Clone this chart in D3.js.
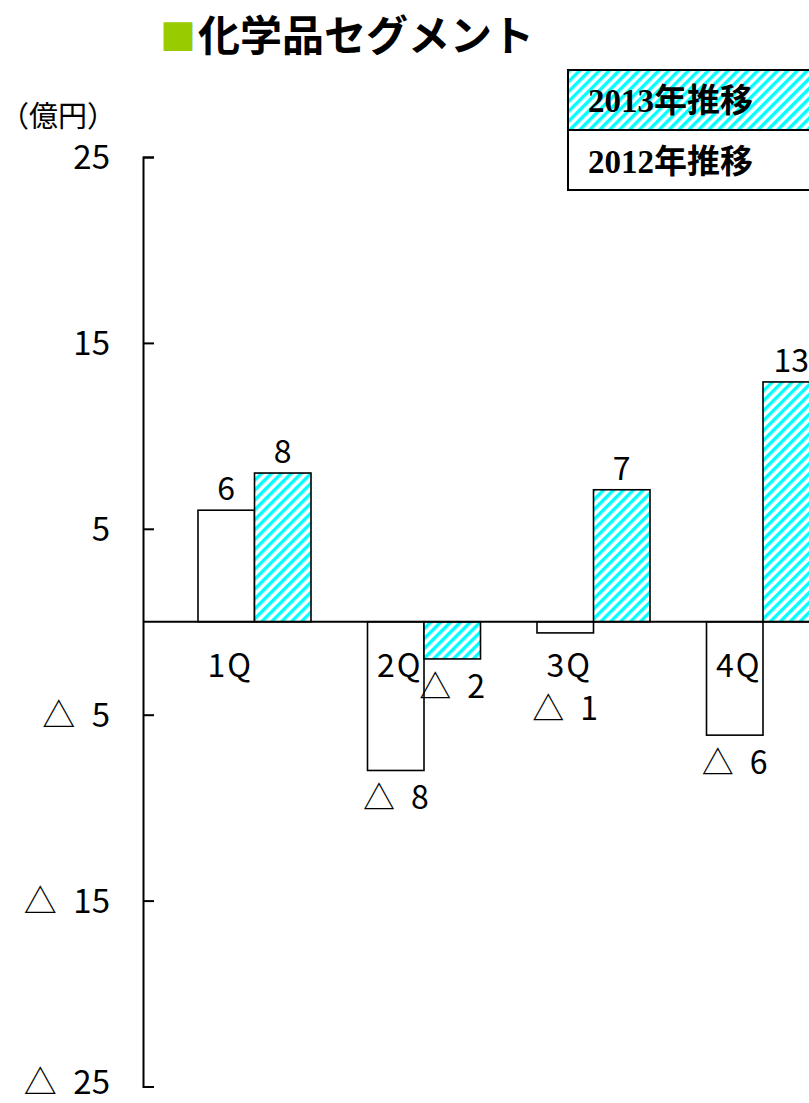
<!DOCTYPE html>
<html>
<head>
<meta charset="utf-8">
<script src="https://cdn.jsdelivr.net/npm/d3@7"></script>
<style>
  body { margin: 0; background: #fff; }
  svg { display: block; }
  text { font-family: "Noto Sans CJK JP", "Noto Sans", sans-serif; fill: #000; }
</style>
</head>
<body>
<script>
var quarters = ["1Q", "2Q", "3Q", "4Q"];
var seriesNames = ["2012", "2013"];
var values2012 = [6.0, -8.0, -0.6, -6.1];
var values2013 = [8.0, -2.0, 7.1, 12.9];
var yTicks = [25, 15, 5, -5, -15, -25];
var legendLabels = ["2013年推移", "2012年推移"];
var titleText = "化学品セグメント";
var unitText = "（億円）";

var width = 809, height = 1103;

// negative numbers are written with a triangle
function tri(v) {
  var n = Math.round(Math.abs(v));
  return v < 0 ? "△\u2002" + n : String(n);
}

var svg = d3.select("body").append("svg")
  .attr("width", width)
  .attr("height", height);

// hatch for 2013 bars
var defs = svg.append("defs");
var pat = defs.append("pattern")
  .attr("id", "hatch")
  .attr("patternUnits", "userSpaceOnUse")
  .attr("width", 7)
  .attr("height", 7)
  .attr("patternTransform", "rotate(45)");
pat.append("rect").attr("width", 7).attr("height", 7).attr("fill", "#fff");
pat.append("rect").attr("width", 3.4).attr("height", 7).attr("fill", "#00ffff");

var y = d3.scaleLinear().domain([-25, 25]).range([1086.5, 157]);

var x = d3.scaleBand()
  .domain(quarters)
  .range([143, 874.5])
  .paddingInner(1 / 3)
  .paddingOuter(0.3245);

var xs = d3.scaleBand()
  .domain(seriesNames)
  .range([0, x.bandwidth()]);

var rows = quarters.map(function(q, i) {
  return { q: q, vals: [
    { s: "2012", v: values2012[i] },
    { s: "2013", v: values2013[i] }
  ]};
});

// title
var title = svg.append("text")
  .attr("x", 160)
  .attr("y", 51)
  .style("font-size", "42px")
  .style("font-weight", "700");
title.append("tspan")
  .style("fill", "#99cc00")
  .style("font-size", "36px")
  .text("■");
title.append("tspan")
  .attr("dx", 2)
  .text(titleText);

svg.append("text")
  .attr("x", 0)
  .attr("y", 127)
  .style("font-size", "29px")
  .text(unitText);

// bars
var groups = svg.selectAll(".grp")
  .data(rows)
  .enter()
  .append("g")
  .attr("class", "grp")
  .attr("transform", function(d) { return "translate(" + x(d.q) + ",0)"; });

groups.selectAll("rect")
  .data(function(d) { return d.vals; })
  .enter()
  .append("rect")
  .attr("x", function(d) { return xs(d.s); })
  .attr("width", xs.bandwidth())
  .attr("y", function(d) { return y(Math.max(0, d.v)); })
  .attr("height", function(d) { return Math.abs(y(d.v) - y(0)); })
  .attr("fill", function(d) { return d.s == "2013" ? "url(#hatch)" : "#fff"; })
  .attr("stroke", "#000")
  .attr("stroke-width", 1.6);

var catBaseline = y(0) + 55;

groups.selectAll(".val")
  .data(function(d) { return d.vals; })
  .enter()
  .append("text")
  .attr("class", "val")
  .attr("x", function(d) { return xs(d.s) + xs.bandwidth() / 2; })
  .attr("y", function(d) {
    if (d.v >= 0) return y(d.v) - 10;
    if (d.v > -1.5) return catBaseline + 43;
    return y(d.v) + 39;
  })
  .attr("text-anchor", "middle")
  .style("font-size", "32px")
  .text(function(d) { return tri(d.v); });

// category labels
groups.append("text")
  .attr("x", xs("2012") + xs.bandwidth() / 2 + 4)
  .attr("y", catBaseline)
  .attr("text-anchor", "middle")
  .style("font-size", "32px")
  .style("letter-spacing", "2px")
  .text(function(d) { return d.q; });

// x axis line
svg.append("line")
  .attr("x1", 143)
  .attr("x2", width)
  .attr("y1", y(0))
  .attr("y2", y(0))
  .attr("stroke", "#000")
  .attr("stroke-width", 2);

// y axis, ticks pointing inward
var yAxis = d3.axisLeft(y)
  .tickValues(yTicks)
  .tickSizeInner(-11)
  .tickSizeOuter(-11)
  .tickPadding(33)
  .tickFormat(tri);

var ag = svg.append("g")
  .attr("transform", "translate(143,0)")
  .call(yAxis);
ag.selectAll("path, line").attr("stroke", "#000").attr("stroke-width", 2);
ag.selectAll("text")
  .attr("dy", function(d) { return d == -25 ? "0.2em" : "0.36em"; })
  .style("font-size", "33px")
  .style("font-family", "'Noto Sans CJK JP', sans-serif")
  .attr("fill", "#000");

// legend
var legend = svg.append("g").attr("transform", "translate(568,70)");
legend.selectAll("rect")
  .data(legendLabels)
  .enter()
  .append("rect")
  .attr("x", 0)
  .attr("y", function(d, i) { return i * 60; })
  .attr("width", 260)
  .attr("height", 60)
  .attr("fill", function(d, i) { return i == 0 ? "url(#hatch)" : "#fff"; })
  .attr("stroke", "#000")
  .attr("stroke-width", 2);
legend.selectAll(".legText")
  .data(legendLabels)
  .enter()
  .append("text")
  .attr("class", "legText")
  .attr("x", 20)
  .attr("y", function(d, i) { return 42 + i * 61; })
  .style("font-size", "33px")
  .style("font-family", "'Liberation Serif', 'Noto Sans CJK JP', serif")
  .style("font-weight", "700")
  .text(function(d) { return d; });
</script>
</body>
</html>
